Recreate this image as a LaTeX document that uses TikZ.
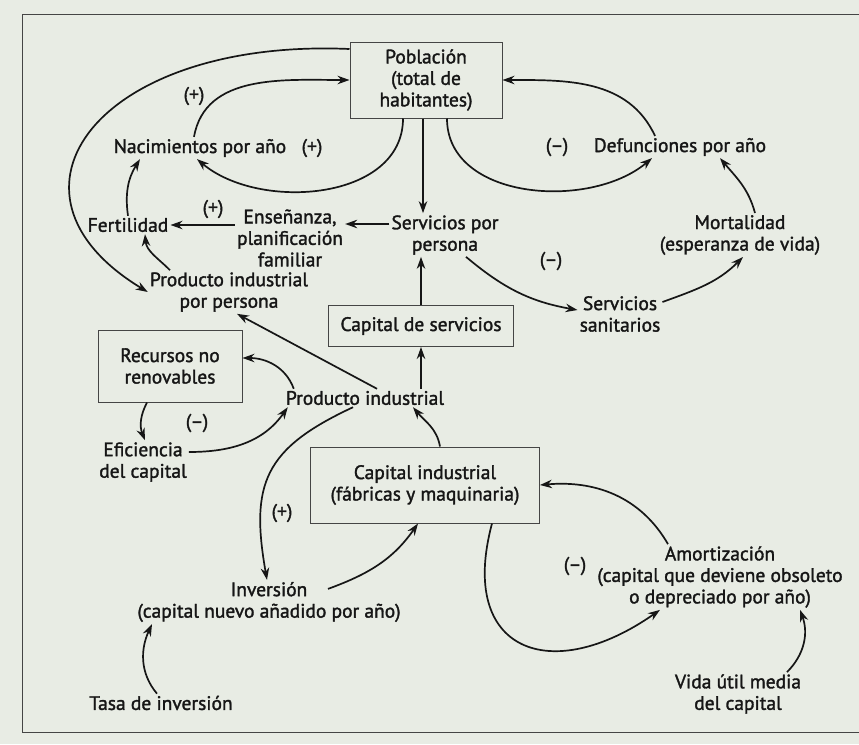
\documentclass[tikz,border=0pt]{standalone}
\usepackage{fontspec}
\setmainfont{PT Sans}[FakeBold=1.6]
\usetikzlibrary{arrows.meta}
\definecolor{fondo}{RGB}{232,236,228}
\definecolor{tinta}{RGB}{22,22,22}

\begin{document}
\begin{tikzpicture}[x=1pt, y=-1pt,
    texto/.style={align=center, inner sep=2pt, text=tinta, font=\fontsize{19.5}{21.5}\selectfont},
    caja/.style={texto, draw=tinta!80, line width=1pt, inner sep=0pt},
    signo/.style={text=tinta, inner sep=1pt, font=\fontsize{19.5}{21.5}\selectfont},
    flecha/.style={-{Stealth[length=12pt, width=8.5pt]}, line width=1.7pt, draw=tinta},
    marco/.style={draw=tinta!80, line width=1pt}]
    \useasboundingbox (0,0) rectangle (859,744);

    % Fondo y marco
    \fill[fondo] (0,0) rectangle (859,744);
    \draw[marco] (859,14) -- (22,14) -- (22,732) -- (859,732);

    % Poblacion
    \node[caja, minimum width=152pt, minimum height=76pt] (pob) at (426,80) {Población\\(total de\\habitantes)};
    \node[texto] (nac) at (200,148) {Nacimientos por año};
    \node[signo] (smas1) at (312,148) {(+)};
    \node[texto] (def) at (680,147) {Defunciones por año};
    \node[signo] (smen1) at (557,147) {(--)};
    \node[signo] (smas2) at (194,96) {(+)};

    % Servicios
    \node[texto] (fer) at (128,225) {Fertilidad};
    \node[signo] (smas3) at (213,209) {(+)};
    \node[texto] (ens) at (290,238) {Enseñanza,\\planificación\\familiar};
    \node[texto] (ser) at (445,235) {Servicios por\\persona};
    \node[texto] (mor) at (740,235) {Mortalidad\\(esperanza de vida)};
    \node[texto] (ppp) at (229,292) {Producto industrial\\por persona};
    \node[caja, minimum width=185pt, minimum height=41pt] (capser) at (421,326) {Capital de servicios};
    \node[texto] (san) at (620,314) {Servicios\\sanitarios};
    \node[signo] (smen2) at (551,261) {(--)};

    % Industria
    \node[caja, minimum width=144pt, minimum height=72pt] (rec) at (170,366) {Recursos no\\renovables};
    \node[texto] (pind) at (365,398) {Producto industrial};
    \node[texto] (efi) at (143,462) {Eficiencia\\del capital};
    \node[signo] (smen3) at (197,423) {(--)};
    \node[caja, minimum width=229pt, minimum height=76pt] (capind) at (425,485) {Capital industrial\\(fábricas y maquinaria)};
    \node[signo] (smas4) at (282,513) {(+)};
    \node[texto] (inv) at (269,602) {Inversión\\(capital nuevo añadido por año)};
    \node[texto] (amo) at (720,577) {Amortización\\(capital que deviene obsoleto\\o depreciado por año)};
    \node[signo] (smen4) at (575,566) {(--)};
    \node[texto] (tasa) at (161,703) {Tasa de inversión};
    \node[texto] (vida) at (738,694) {Vida útil media\\del capital};

    % Flechas de poblacion
    \draw[flecha] ([yshift=31pt]pob.west) .. controls +(-250,-11) and +(-165,-100) .. (ppp.west);
    \draw[flecha] ([xshift=-6pt]nac.north) to[out=80, in=180] (pob.west);
    \draw[flecha] ([xshift=-23pt]pob.south) to[out=-90, in=-40] ([xshift=-3pt]nac.south);
    \draw[flecha] ([xshift=-3pt]pob.south) -- ([xshift=-22pt]ser.north);
    \draw[flecha] ([xshift=-25pt]def.north) to[out=115, in=0] (pob.east);
    \draw[flecha] ([xshift=21pt]pob.south) to[out=-90, in=-140] ([xshift=-28pt]def.south);

    % Flechas de servicios
    \draw[flecha] (fer.north) to[bend left=20] ([xshift=-60pt]nac.south);
    \draw[flecha] (ens.west |- fer.east) -- (fer.east);
    \draw[flecha] ([yshift=11pt]ser.west) -- ([yshift=11pt]ser.west -| ens.east);
    \draw[flecha] ([xshift=-59pt]ppp.north) to[out=135, in=-85] ([xshift=17pt]fer.south);
    \draw[flecha] ([xshift=21pt]ser.south) to[out=-40, in=170] ([yshift=4pt]san.west);
    \draw[flecha] ([yshift=12pt]san.east) to[out=20, in=-135] ([xshift=3pt]mor.south);
    \draw[flecha] ([xshift=15pt]mor.north) to[out=105, in=-50] ([xshift=40pt]def.south);
    \draw[flecha] (capser.north) -- (capser.north |- ser.south);

    % Flechas de industria
    \draw[flecha] (capser.south |- pind.north) -- (capser.south);
    \draw[flecha] ([xshift=12pt]pind.north) -- ([xshift=8pt]ppp.south);
    \draw[flecha] ([xshift=10pt]pind.north west) to[out=110, in=0] ([yshift=8pt]rec.east);
    \draw[flecha] ([xshift=-23pt]rec.south) to[bend right=25] ([xshift=2pt]efi.north);
    \draw[flecha] ([yshift=10pt]efi.east) to[out=0, in=-125] ([xshift=4pt]pind.south west);
    \draw[flecha] ([xshift=-12pt]pind.south) to[out=-155, in=100, looseness=1.3] ([xshift=-2pt]inv.north);
    \draw[flecha] ([xshift=15pt]capind.north) to[out=100, in=-50] ([xshift=48pt]pind.south);
    \draw[flecha] ([xshift=59pt, yshift=-9pt]inv.north) to[out=20, in=-125] ([xshift=-7pt]capind.south);
    \draw[flecha] ([xshift=67pt]capind.south) to[out=-105, in=-145, looseness=1.8] ([xshift=-60pt]amo.south);
    \draw[flecha] ([xshift=-52pt]amo.north) to[out=120, in=5] (capind.east);
    \draw[flecha] ([xshift=-4pt]tasa.north) to[out=130, in=-115] ([xshift=-117pt]inv.south);
    \draw[flecha] ([xshift=49pt]vida.north) to[out=45, in=-70] ([xshift=80pt]amo.south);
\end{tikzpicture}
\end{document}
